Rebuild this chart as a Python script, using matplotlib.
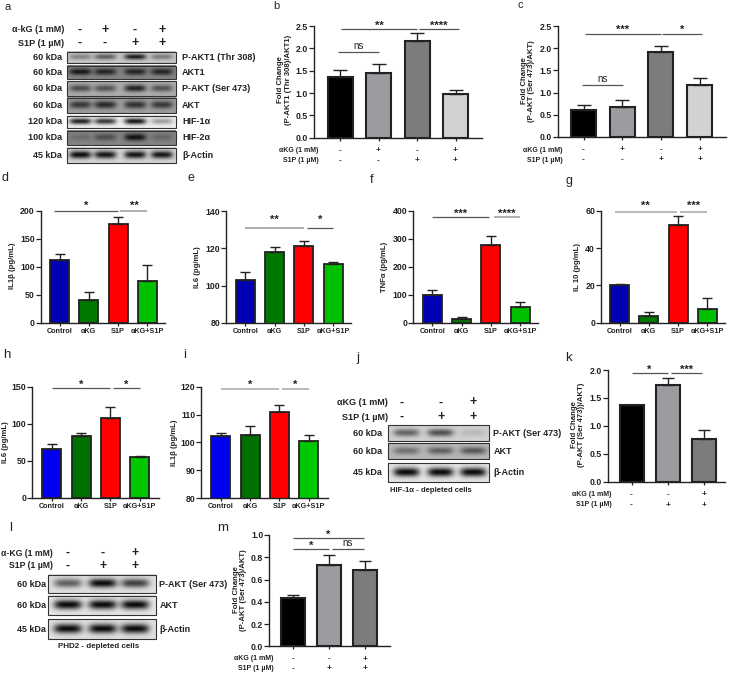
import matplotlib
matplotlib.use('Agg')
import matplotlib.pyplot as plt
from matplotlib.patches import Rectangle
import numpy as np

plt.rcParams['font.family'] = ['Liberation Sans', 'DejaVu Sans']

W, H = 729, 673
AKG_LABEL = '\u03b1KG (1 mM)'
S1P_LABEL = 'S1P (1 \u00b5M)'
GROUPS = ['Control', '\u03b1KG', 'S1P', '\u03b1KG+S1P']

# Fold change panels
b_vals = [1.35, 1.45, 2.17, 0.97]
b_errs = [0.17, 0.19, 0.17, 0.09]
c_vals = [0.60, 0.68, 1.91, 1.17]
c_errs = [0.11, 0.15, 0.15, 0.17]
k_vals = [1.37, 1.74, 0.77]
k_errs = [0.01, 0.12, 0.16]
m_vals = [0.43, 0.73, 0.69]
m_errs = [0.03, 0.09, 0.08]

# Cytokine panels
d_vals = [112, 40, 176, 74]
d_errs = [10, 14, 12, 29]
e_vals = [103, 118, 121.5, 111.5]
e_errs = [4.5, 3, 2.5, 1]
f_vals = [98, 15, 278, 56]
f_errs = [20, 7, 30, 19]
g_vals = [20, 3.5, 52.5, 7.5]
g_errs = [1, 2, 4.5, 6]
h_vals = [66, 84, 108, 55]
h_errs = [7, 3, 14, 2]
i_vals = [102.3, 102.5, 111, 100.5]
i_errs = [0.9, 3.5, 2.5, 2]

# Blot band strength per lane
a_rows = ['P-AKT1 (Thr 308)', 'AKT1', 'P-AKT (Ser 473)', 'AKT', 'HIF-1\u03b1', 'HIF-2\u03b1', '\u03b2-Actin']
a_kda = ['60 kDa', '60 kDa', '60 kDa', '60 kDa', '120 kDa', '100 kDa', '45 kDa']
a_bg = [0.78, 0.52, 0.68, 0.62, 0.94, 0.52, 0.84]
a_bands = [[0.35, 0.55, 0.9, 0.4], [0.9, 0.8, 0.8, 0.8], [0.6, 0.55, 0.85, 0.55], [0.7, 0.8, 0.75, 0.7],
           [0.9, 0.8, 0.95, 0.35], [0.2, 0.45, 0.95, 0.25], [1, 0.95, 0.95, 0.95]]
j_rows = ['P-AKT (Ser 473)', 'AKT', '\u03b2-Actin']
j_kda = ['60 kDa', '60 kDa', '45 kDa']
j_bg = [0.82, 0.72, 0.9]
j_bands = [[0.55, 0.65, 0.12], [0.4, 0.5, 0.55], [1, 1, 1]]
l_rows = ['P-AKT (Ser 473)', 'AKT', '\u03b2-Actin']
l_kda = ['60 kDa', '60 kDa', '45 kDa']
l_bg = [0.88, 0.9, 0.88]
l_bands = [[0.6, 1, 0.75], [1, 1, 1], [1, 1, 1]]

GREYS = ['#000000', '#9b9ba0', '#7c7c7c', '#d2d2d2']
GREYS3 = ['#000000', '#9b9ba0', '#7c7c7c']
DARK_SET = ['#0000b4', '#007800', '#ff0000', '#00c000']
BRIGHT_SET = ['#0000f0', '#007000', '#ff0000', '#00c800']
LINE_DARK = '#555555'
LINE_LIGHT = '#a8a8a8'
INK = '#222222'

fig = plt.figure(figsize=(W / 100, H / 100), dpi=100, facecolor='white')
page = fig.add_axes([0, 0, 1, 1], zorder=5)
page.set_xlim(0, W)
page.set_ylim(H, 0)
page.axis('off')
page.patch.set_alpha(0)


def bar_panel(box, yr, yticks, vals, errs, colors, first, step, barw, ticklabels=None, fmt='%d', cap=3.3, edge=1.3):
    l, r, t, b = box
    ax = fig.add_axes([l / W, 1 - b / H, (r - l) / W, (b - t) / H])
    ax.patch.set_alpha(0)
    xs = np.arange(len(vals))
    ax.bar(xs, vals, width=barw / step, color=colors, edgecolor=INK, linewidth=edge)
    ax.errorbar(xs, vals, yerr=[[0] * len(vals), errs], fmt='none', ecolor=INK,
                elinewidth=1.0, capsize=cap, capthick=1.0, clip_on=False)
    ax.set_xlim((l - first) / step, (r - first) / step)
    ax.set_ylim(*yr)
    ax.set_yticks(yticks)
    ax.set_yticklabels([fmt % v for v in yticks], fontsize=6.3, fontweight='bold', color=INK)
    ax.set_xticks(xs)
    if ticklabels:
        ax.set_xticklabels(ticklabels, fontsize=5.2, fontweight='bold', color=INK)
    else:
        ax.set_xticklabels([])
    ax.tick_params(axis='y', length=3.3, width=0.9, pad=1, color=INK)
    ax.tick_params(axis='x', length=2.2, width=0.9, pad=1.5, color=INK)
    for side in ['top', 'right']:
        ax.spines[side].set_visible(False)
    for side in ['left', 'bottom']:
        ax.spines[side].set_linewidth(1.0)
        ax.spines[side].set_color(INK)
    return ax


def bracket(ax, x0, x1, y, label, color=LINE_DARK, lw=0.9, size=8, dy=-1.5):
    ax.plot([x0, x1], [y, y], color=color, lw=lw, clip_on=False, solid_capstyle='butt')
    star = label != 'ns'
    ax.annotate(label, xy=((x0 + x1) / 2, y), xytext=(0, dy if star else 1), textcoords='offset pixels',
                ha='center', va='bottom', fontsize=size if star else 7, annotation_clip=False,
                fontweight='bold' if star else 'normal', color=INK)


def plus_rows(ax, rows, right, ys, size=5):
    # rows of + and - below the bars, with the row name on the left
    for (name, marks), y in zip(rows, ys):
        page.text(right, y, name, ha='right', va='center', fontsize=size, fontweight='bold', color=INK)
        for i, mark in enumerate(marks):
            px = ax.transData.transform((i, 0))[0]
            page.text(px, y, mark, ha='center', va='center', fontsize=size + 1, fontweight='bold', color=INK)


def blot(x0, x1, tops, bottoms, lanes, bgs, bands, names, kdas, bandw, gap_l, gap_r, label_size=6.5):
    for k, (t, b) in enumerate(zip(tops, bottoms)):
        nx, ny = int((x1 - x0) * 3), int((b - t) * 3)
        xx = np.linspace(x0, x1, nx)
        yy = np.linspace(0, 1, ny)
        prof = np.zeros((ny, nx))
        for lane, s in zip(lanes, bands[k]):
            across = np.exp(-((xx - lane) / bandw) ** 4)
            down = np.exp(-((yy - 0.48) / 0.24) ** 2)
            prof += s * np.outer(down, across)
        img = bgs[k] - (bgs[k] - 0.04) * np.clip(prof, 0, 1)
        page.imshow(img, extent=(x0, x1, b, t), cmap='gray', vmin=0, vmax=1, aspect='auto', interpolation='bilinear')
        page.add_patch(Rectangle((x0, t), x1 - x0, b - t, fill=False, ec='#333333', lw=0.8))
        mid = (t + b) / 2
        page.text(x0 - gap_l, mid, kdas[k], ha='right', va='center', fontsize=label_size, fontweight='bold', color=INK)
        page.text(x1 + gap_r, mid, names[k], ha='left', va='center', fontsize=label_size, fontweight='bold', color=INK)


def head(labels, xs, rows, y0, y1, right, size=6.5):
    page.text(right, y0, labels[0], ha='right', va='center', fontsize=size, fontweight='bold', color=INK)
    page.text(right, y1, labels[1], ha='right', va='center', fontsize=size, fontweight='bold', color=INK)
    for row, y in zip(rows, [y0, y1]):
        for x, mark in zip(xs, row):
            page.text(x, y, mark, ha='center', va='center', fontsize=size + 2.5, fontweight='bold', color=INK)


def side_label(x, y, s, size=5.6):
    page.text(x, y, s, rotation=90, ha='center', va='center', fontsize=size, fontweight='bold',
              color=INK, linespacing=1.05)


# ---- blots
blot(66.7, 175.7, [51.7, 65.7, 81, 98, 115.7, 130.7, 148.3], [63.3, 79.3, 96, 113.3, 128, 145.3, 163.3],
     [80, 105, 135, 161.7], a_bg, a_bands, a_rows, a_kda, 11, 4.5, 6.3)
blot(387.7, 489.3, [425.3, 443.3, 463.3], [440.7, 459.3, 482], [406, 440, 472.7], j_bg, j_bands, j_rows, j_kda, 13, 5.7, 4)
blot(48.3, 155.7, [575, 596, 619.3], [593.3, 615.3, 639], [68, 102.7, 135], l_bg, l_bands, l_rows, l_kda, 14, 2.3, 3.6)

head(['\u03b1-kG (1 mM)', S1P_LABEL], [80, 105, 135, 161.7], [['-', '+', '-', '+'], ['-', '-', '+', '+']], 29.5, 43, 64)
head(['\u03b1KG (1 mM)', S1P_LABEL], [402, 441, 473.5], [['-', '-', '+'], ['-', '+', '+']], 402.5, 417, 388)
head(['\u03b1-KG (1 mM)', S1P_LABEL], [68, 102.7, 135], [['-', '-', '+'], ['-', '+', '+']], 553, 566, 53, size=6.2)
page.text(431, 491, 'HIF-1\u03b1 - depleted cells', ha='center', va='center', fontsize=5.6, fontweight='bold', color=INK)
page.text(98.5, 646, 'PHD2 - depleted cells', ha='center', va='center', fontsize=5.8, fontweight='bold', color=INK)

# ---- fold change panels
ax = bar_panel((314, 482, 26, 137.7), (0, 2.5), [0, 0.5, 1, 1.5, 2, 2.5], b_vals, b_errs, GREYS, 340, 38.5, 25, fmt='%.1f', cap=4.8, edge=1.5)
bracket(ax, 0.03, 2, 2.43, '**')
bracket(ax, 2.04, 3.08, 2.43, '****')
bracket(ax, -0.05, 1, 1.92, 'ns')
plus_rows(ax, [(AKG_LABEL, ['-', '+', '-', '+']), (S1P_LABEL, ['-', '-', '+', '+'])], 319, [150.7, 160.3])
side_label(284.5, 80, 'Fold Change\n(P-AKT1 (Thr 308)/AKT1)')

ax = bar_panel((557.7, 726, 26, 137), (0, 2.5), [0, 0.5, 1, 1.5, 2, 2.5], c_vals, c_errs, GREYS, 583.5, 38.7, 25, fmt='%.1f', cap=4.8, edge=1.5)
bracket(ax, 0.03, 2, 2.33, '***')
bracket(ax, 2.04, 3.07, 2.33, '*')
bracket(ax, -0.03, 1.02, 1.17, 'ns')
plus_rows(ax, [(AKG_LABEL, ['-', '+', '-', '+']), (S1P_LABEL, ['-', '-', '+', '+'])], 562.7, [150, 160])
side_label(528, 81, 'Fold Change\n(P-AKT (Ser 473)/AKT)')

ax = bar_panel((608, 725, 370, 481.7), (0, 2), [0, 0.5, 1, 1.5, 2], k_vals, k_errs, GREYS3, 631.5, 36.2, 24, fmt='%.1f', cap=4.3, edge=1.5)
bracket(ax, 0, 1, 1.94, '*')
bracket(ax, 1.1, 1.95, 1.94, '***')
plus_rows(ax, [(AKG_LABEL, ['-', '-', '+']), (S1P_LABEL, ['-', '+', '+'])], 612, [494.3, 505])
side_label(578, 425, 'Fold Change\n(P-AKT (Ser 473))/AKT)')

ax = bar_panel((269.3, 390, 535, 646.3), (0, 1), [0, 0.2, 0.4, 0.6, 0.8, 1], m_vals, m_errs, GREYS3, 293, 36.2, 24, fmt='%.1f', cap=4.3, edge=1.5)
bracket(ax, 0, 1.95, 0.97, '*')
bracket(ax, 0, 1, 0.87, '*')
bracket(ax, 1.08, 1.95, 0.87, 'ns')
plus_rows(ax, [(AKG_LABEL, ['-', '-', '+']), (S1P_LABEL, ['-', '+', '+'])], 274, [659, 668.7])
side_label(240, 590, 'Fold Change\n(P-AKT (Ser 473)/AKT)')

# ---- cytokine panels
ax = bar_panel((40.7, 165, 210.7, 322.5), (0, 200), [0, 50, 100, 150, 200], d_vals, d_errs, DARK_SET, 59.5, 29.3, 19, GROUPS)
bracket(ax, -0.2, 2, 199, '*', dy=0)
bracket(ax, 2.08, 3, 199, '**', color=LINE_LIGHT, lw=1.3, dy=0)
side_label(12.7, 266, 'IL1\u03b2 (pg/mL)')

ax = bar_panel((226, 351, 211.3, 322.7), (80, 140), [80, 100, 120, 140], e_vals, e_errs, DARK_SET, 245.2, 29.35, 19, GROUPS)
bracket(ax, 0, 2, 131.2, '**', color=LINE_LIGHT, lw=1.3, dy=3)
bracket(ax, 2.1, 3, 131.2, '*', dy=3)
side_label(198, 266.7, 'IL6 (pg/mL)')

ax = bar_panel((413, 538, 210.7, 322.7), (0, 400), [0, 100, 200, 300, 400], f_vals, f_errs, DARK_SET, 432.2, 29.3, 19, GROUPS)
bracket(ax, 0, 1.95, 376, '***')
bracket(ax, 2.1, 3, 376, '****', color=LINE_LIGHT, lw=1.3)
side_label(385, 266.7, 'TNF\u03b1 (pg/mL)')

ax = bar_panel((601, 725, 210.7, 322.7), (0, 60), [0, 20, 40, 60], g_vals, g_errs, DARK_SET, 619.5, 29.3, 19, GROUPS)
bracket(ax, -0.15, 1.95, 59.5, '**', color=LINE_LIGHT, lw=1.1, dy=1)
bracket(ax, 2.08, 3, 59.5, '***', color=LINE_LIGHT, lw=1.1, dy=1)
side_label(577.3, 266.7, 'IL 10 (pg/mL)')

ax = bar_panel((32.3, 159, 386.7, 497.7), (0, 150), [0, 50, 100, 150], h_vals, h_errs, BRIGHT_SET, 51.7, 29.3, 19, GROUPS)
bracket(ax, 0, 2, 148, '*')
bracket(ax, 2.1, 3, 148, '*')
side_label(5.7, 442, 'IL6 (pg/mL)')

ax = bar_panel((201.3, 328, 386.7, 498), (80, 120), [80, 90, 100, 110, 120], i_vals, i_errs, BRIGHT_SET, 220.7, 29.3, 19, GROUPS)
bracket(ax, 0, 2, 119.3, '*', color=LINE_LIGHT, lw=1.1)
bracket(ax, 2.1, 3, 119.3, '*', color=LINE_LIGHT, lw=1.1)
side_label(175, 442.7, 'IL1\u03b2 (pg/mL)')

# ---- panel letters
letters = ['a', 'b', 'c', 'd', 'e', 'f', 'g', 'h', 'i', 'j', 'k', 'l', 'm']
letter_x = [8, 276, 520, 5, 191, 372, 569, 7, 185, 358, 568, 11, 223]
letter_y = [7, 6, 5.5, 178, 178, 180, 181, 355, 355, 358, 358, 528, 528]
letter_size = [8, 8, 8, 9, 9, 9, 9, 9.5, 9.5, 9.5, 9.5, 9.5, 9.5]
for s, x, y, fs in zip(letters, letter_x, letter_y, letter_size):
    page.text(x, y, s, ha='center', va='center', fontsize=fs, color=INK)

page.set_xlim(0, W)
page.set_ylim(H, 0)
fig.savefig('out.png', dpi=100)
